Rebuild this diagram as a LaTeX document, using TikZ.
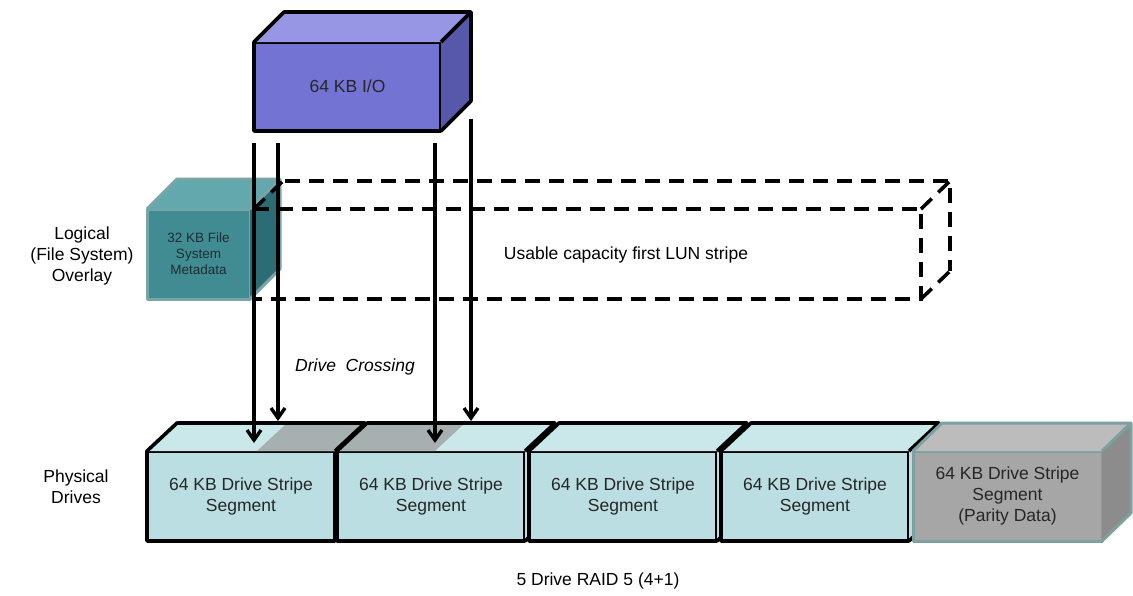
\documentclass[tikz,border=0pt]{standalone}
\usepackage{fontspec}
\setmainfont{Liberation Sans}
\usetikzlibrary{arrows.meta,calc}
\definecolor{iofront}{RGB}{115,115,212}
\definecolor{iotop}{RGB}{150,150,228}
\definecolor{ioright}{RGB}{88,88,170}
\definecolor{metafront}{RGB}{64,140,146}
\definecolor{metatop}{RGB}{98,168,172}
\definecolor{metaright}{RGB}{44,108,116}
\definecolor{metaborder}{RGB}{120,165,168}
\definecolor{metatext}{RGB}{30,45,50}
\definecolor{drivefront}{RGB}{186,222,225}
\definecolor{drivetop}{RGB}{202,231,233}
\definecolor{crossgray}{RGB}{166,176,176}
\definecolor{parfront}{RGB}{166,166,166}
\definecolor{partop}{RGB}{188,188,188}
\definecolor{parright}{RGB}{140,140,140}
\definecolor{parborder}{RGB}{125,160,160}
\newcommand\cubefaces[6]{%
  \fill[#3] (#1.north west) -- ++(#2) -- ($(#1.north east)+(#2)$) -- (#1.north east) -- cycle;
  #6
  \fill[#4] (#1.north east) -- ++(#2) -- ($(#1.south east)+(#2)$) -- (#1.south east) -- cycle;
  \draw[#5] (#1.north west) -- ++(#2) -- ($(#1.north east)+(#2)$) -- ($(#1.south east)+(#2)$) -- (#1.south east)
            (#1.north east) -- ++(#2);
}
\begin{document}
\begin{tikzpicture}[x=1pt,y=-1pt,
  txt/.style={font=\fontsize{17.5}{21}\selectfont, align=center, inner sep=0pt},
  face/.style={anchor=north west, outer sep=0pt, inner sep=0pt, line join=round},
  blackedge/.style={draw=black, line width=3.6pt, line join=round},
  drivebox/.style={face, blackedge, fill=drivefront, minimum width=188pt, minimum height=90pt,
     font=\fontsize{17.5}{21}\selectfont, align=center, text=black!85},
  dashedge/.style={line width=3.6pt, dash pattern=on 15pt off 9pt},
  arrowline/.style={line width=3.4pt, -{Straight Barb[length=10pt,width=14pt,line width=3.4pt]}}
]
\useasboundingbox (0,0) rectangle (1133,595);

% metadata cube
\node[face, fill=metafront, draw=metaborder, line width=3pt, minimum width=103pt, minimum height=90pt,
      font=\fontsize{13.5}{16}\selectfont, align=center, text=metatext] (meta) at (147,209)
      {32 KB File\\System\\Metadata};
\cubefaces{meta}{30,-30}{metatop}{metaright}{draw=metaborder, line width=3pt, line join=round}{}

% dashed LUN stripe box
\node[face, minimum width=667pt, minimum height=90pt] (lun) at (254,209) {};
\draw[dashedge] (lun.north west) -- (lun.north east) -- (lun.south east) -- (lun.south west);
\draw[dashedge] ($(lun.north west)+(31,-28)$) -- ($(lun.north east)+(29,-28)$) -- ($(lun.south east)+(29,-28)$);
\draw[dashedge] (lun.north west) -- ++(29,-28);
\draw[dashedge] (lun.north east) -- ++(29,-28);
\draw[dashedge] (lun.south east) -- ++(29,-28);
\node[txt] (lunlabel) at (626,255) {Usable capacity first LUN stripe};

% I/O box
\node[face, blackedge, fill=iofront, minimum width=187pt, minimum height=89pt,
      font=\fontsize{17.5}{21}\selectfont, text=black!85] (io) at (254,42) {64 KB I/O};
\cubefaces{io}{30,-30}{iotop}{ioright}{blackedge}{}

% drives
\node[drivebox] (d1) at (147,451) {64 KB Drive Stripe\\Segment};
\cubefaces{d1}{30,-28}{drivetop}{drivefront}{blackedge}{%
  \fill[crossgray] (257,451) -- (d1.north east) -- ++(30,-28) -- (287,423) -- cycle;}
\node[drivebox] (d2) at (337,451) {64 KB Drive Stripe\\Segment};
\cubefaces{d2}{30,-28}{drivetop}{drivefront}{blackedge}{%
  \fill[crossgray] (d2.north west) -- (435,451) -- (465,423) -- ($(d2.north west)+(30,-28)$) -- cycle;}
\node[drivebox] (d3) at (529,451) {64 KB Drive Stripe\\Segment};
\cubefaces{d3}{30,-28}{drivetop}{drivefront}{blackedge}{}
\node[drivebox] (d4) at (721,451) {64 KB Drive Stripe\\Segment};
\cubefaces{d4}{30,-28}{drivetop}{drivefront}{blackedge}{}
\node[drivebox, fill=parfront, draw=parborder, line width=3pt, minimum width=189pt] (d5) at (913,451)
      {64 KB Drive Stripe\\Segment\\(Parity Data)};
\cubefaces{d5}{29,-28}{partop}{parright}{draw=parborder, line width=3pt, line join=round}{}

% arrows
\coordinate (a1s) at (254,143); \coordinate (a1e) at (254,443);
\coordinate (a2s) at (278,143); \coordinate (a2e) at (278,421);
\coordinate (a3s) at (435,143); \coordinate (a3e) at (435,443);
\coordinate (a4s) at (471,119); \coordinate (a4e) at (471,421);
\draw[arrowline] (a1s) -- (a1e);
\draw[arrowline] (a2s) -- (a2e);
\draw[arrowline] (a3s) -- (a3e);
\draw[arrowline] (a4s) -- (a4e);

% labels
\node[txt] (logical) at (82,256) {Logical\\(File System)\\Overlay};
\node[txt] (physical) at (76,487) {Physical\\Drives};
\node[txt, font=\fontsize{17.5}{21}\selectfont\itshape] (crossing) at (355,367) {Drive\ \ Crossing};
\node[txt] (raid) at (598,581) {5 Drive RAID 5 (4+1)};
\end{tikzpicture}
\end{document}
